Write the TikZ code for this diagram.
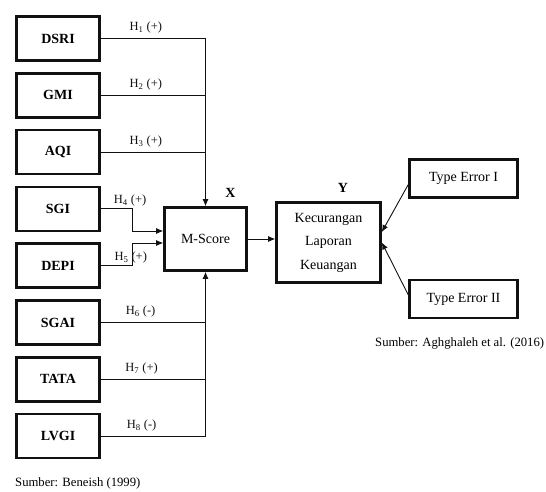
\documentclass[tikz,border=0pt]{standalone}
\usepackage{fontspec}
\setmainfont{Liberation Serif}
\usetikzlibrary{arrows.meta, positioning, calc}
\definecolor{msdark}{HTML}{111111}
\tikzset{
  varbox/.style={rectangle, draw=msdark, line width=2.6pt, minimum width=83pt, minimum height=44pt,
    font=\bfseries\fontsize{14}{16}\selectfont, align=center},
  mainbox/.style={rectangle, draw=msdark, line width=2.6pt, font=\fontsize{14}{23.5}\selectfont, align=center},
  errbox/.style={rectangle, draw=msdark, line width=2.4pt, minimum width=108pt, minimum height=38pt,
    font=\fontsize{14}{16}\selectfont, align=center},
  hlab/.style={above, inner sep=4.5pt, font=\fontsize{12.5}{14}\selectfont},
  varlab/.style={inner sep=1pt, font=\bfseries\fontsize{14}{16}\selectfont},
  srclab/.style={inner sep=0pt, font=\fontsize{12.7}{14}\selectfont},
  ln/.style={line width=0.9pt, msdark},
  arr/.style={-{Latex[length=7pt, width=6pt]}, line width=0.9pt, msdark},
}
\begin{document}
\begin{tikzpicture}[x=1pt, y=-1pt]
    \useasboundingbox (0,0) rectangle (546,492);
    % independent variables
    \node[varbox] (dsri) at (58,38.5) {DSRI};
    \node[varbox, below=10.2pt of dsri] (gmi) {GMI};
    \node[varbox, below=10.2pt of gmi] (aqi) {AQI};
    \node[varbox, below=10.2pt of aqi] (sgi) {SGI};
    \node[varbox, below=10.2pt of sgi] (depi) {DEPI};
    \node[varbox, below=10.2pt of depi] (sgai) {SGAI};
    \node[varbox, below=10.2pt of sgai] (tata) {TATA};
    \node[varbox, below=10.2pt of tata] (lvgi) {LVGI};
    % M-Score and fraud
    \node[mainbox, minimum width=82pt, minimum height=63pt] (mscore) at (205.5,239) {M-Score};
    \node[mainbox, minimum width=104pt, minimum height=80pt] (fraud) at (328.5,242.5) {Kecurangan\\Laporan\\Keuangan};
    \node[errbox] (err1) at (463.5,178.5) {Type Error I};
    \node[errbox] (err2) at (463.5,299) {Type Error II};
    \node[varlab, above=8pt] at ([xshift=25pt]mscore.north) {X};
    \node[varlab, above=8pt] at ([xshift=14.5pt]fraud.north) {Y};
    \coordinate (in4) at ([yshift=8pt]mscore.west);
    \coordinate (in5) at ([yshift=-4pt]mscore.west);
    % hypotheses
    \draw[arr] (dsri.east) -| node[hlab, pos=0.215]{H\textsubscript{1} (+)} (mscore.north);
    \draw[ln] (gmi.east) -- node[hlab, pos=0.43]{H\textsubscript{2} (+)} (gmi.east -| mscore.north);
    \draw[ln] (aqi.east) -- node[hlab, pos=0.43]{H\textsubscript{3} (+)} (aqi.east -| mscore.north);
    \draw[arr] (sgi.east) -- node[hlab, inner sep=2.5pt, pos=0.93]{H\textsubscript{4} (+)} ++(31.5,0) |- (in4);
    \draw[arr] (depi.east) -- node[hlab, inner sep=2pt, pos=0.95]{H\textsubscript{5} (+)} ++(31.5,0) |- (in5);
    \draw[ln] (sgai.east) -- node[hlab, pos=0.38]{H\textsubscript{6} (-)} (sgai.east -| mscore.south);
    \draw[ln] (tata.east) -- node[hlab, pos=0.39]{H\textsubscript{7} (+)} (tata.east -| mscore.south);
    \draw[arr] (lvgi.east) -| node[hlab, pos=0.195]{H\textsubscript{8} (-)} (mscore.south);
    \draw[arr] (mscore.east) -- (mscore.east -| fraud.west);
    \draw[arr] ([yshift=-6pt]err1.west) -- ([yshift=10.5pt]fraud.east);
    \draw[arr] ([yshift=4pt]err2.west) -- ([yshift=0pt]fraud.east);
    % sources
    \node[srclab, anchor=west] (src2) at (375,343) {Sumber: Aghghaleh et al. (2016)};
    \node[srclab, anchor=west] (src1) at (15,483) {Sumber: Beneish (1999)};
  \end{tikzpicture}
\end{document}
